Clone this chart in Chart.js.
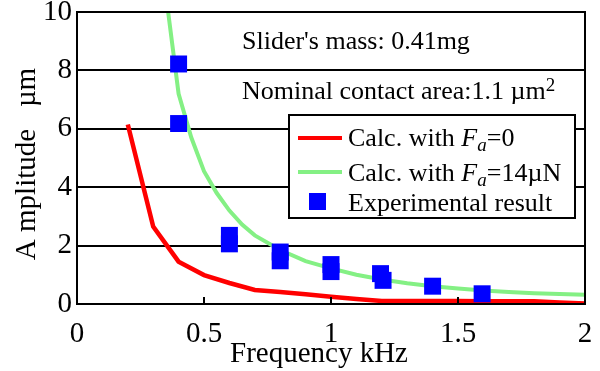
<!DOCTYPE html>
<html>
<head>
<meta charset="utf-8">
<script src="https://cdn.jsdelivr.net/npm/chart.js@4"></script>
<style>
  html, body { margin: 0; padding: 0; background: #fff; }
</style>
</head>
<body>
<canvas id="chart" width="600" height="371"></canvas>
<script>
// calculated amplitude, Fa = 0
const calcFreq0 = [0.2, 0.3, 0.4, 0.5, 0.6, 0.7, 0.8, 0.9, 1.0, 1.1, 1.2, 1.3, 1.4, 1.5, 1.6, 1.7, 1.8, 1.9, 2.0];
const calcAmp0 = [6.15, 2.65, 1.45, 0.99, 0.72, 0.48, 0.41, 0.33, 0.25, 0.17, 0.1, 0.1, 0.1, 0.1, 0.09, 0.09, 0.09, 0.05, 0.02];

// calculated amplitude, Fa = 14 uN
const calcFreq14 = [0.35, 0.4, 0.45, 0.5, 0.55, 0.6, 0.65, 0.7, 0.8, 0.9, 1.0, 1.1, 1.2, 1.3, 1.4, 1.5, 1.6, 1.7, 1.8, 1.9, 2.0];
const calcAmp14 = [10.6, 7.2, 5.7, 4.55, 3.8, 3.2, 2.72, 2.35, 1.85, 1.47, 1.22, 1.0, 0.84, 0.71, 0.61, 0.53, 0.46, 0.41, 0.37, 0.34, 0.32];

// experimental result
const expFreq = [0.4, 0.4, 0.6, 0.6, 0.8, 0.8, 1.0, 1.0, 1.195, 1.205, 1.4, 1.595];
const expAmp = [8.22, 6.18, 2.35, 2.06, 1.78, 1.48, 1.35, 1.11, 1.04, 0.81, 0.61, 0.35];

const xTicks = [0, 0.5, 1, 1.5, 2];
const yTicks = [0, 2, 4, 6, 8, 10];

const serif = "'Liberation Serif'";
const red = "#ff0000";
const green = "#84f084";
const blue = "#0000ff";

function toPoints(xs, ys) {
  return xs.map((x, i) => ({ x: x, y: ys[i] }));
}

// draws pieces of text one after another, returns end x
function drawRun(ctx, x, y, parts) {
  parts.forEach(p => {
    ctx.font = (p.italic ? "italic " : "") + p.size + "px " + serif;
    ctx.fillText(p.text, x, y + (p.dy || 0));
    x += ctx.measureText(p.text).width;
  });
  return x;
}

const overlay = {
  id: "overlay",
  afterDatasetsDraw(chart) {
    const ctx = chart.ctx;
    const a = chart.chartArea;
    const xs = chart.scales.x;
    ctx.save();
    ctx.fillStyle = "#000";
    ctx.strokeStyle = "#000";

    // inward tick marks on the bottom axis
    ctx.lineWidth = 2;
    xTicks.slice(1, -1).forEach(v => {
      const px = Math.round(xs.getPixelForValue(v));
      ctx.beginPath();
      ctx.moveTo(px, a.bottom);
      ctx.lineTo(px, a.bottom - 7);
      ctx.stroke();
    });

    // frame
    ctx.strokeRect(a.left, a.top, a.right - a.left, a.bottom - a.top);

    // notes
    ctx.textAlign = "left";
    ctx.textBaseline = "alphabetic";
    drawRun(ctx, a.left + 165, 49, [{ text: "Slider's mass: 0.41mg", size: 26 }]);
    drawRun(ctx, a.left + 165, 99, [
      { text: "Nominal contact area:1.1 \u00b5m", size: 26 },
      { text: "2", size: 19, dy: -8 }
    ]);

    // legend box
    const lx = 289, ly = 115, lw = 286, lh = 103;
    ctx.fillStyle = "#fff";
    ctx.fillRect(lx, ly, lw, lh);
    ctx.lineWidth = 2;
    ctx.strokeRect(lx, ly, lw, lh);

    ctx.lineWidth = 4;
    ctx.strokeStyle = red;
    ctx.beginPath(); ctx.moveTo(298, 138); ctx.lineTo(342, 138); ctx.stroke();
    ctx.strokeStyle = green;
    ctx.beginPath(); ctx.moveTo(298, 172); ctx.lineTo(342, 172); ctx.stroke();
    ctx.fillStyle = blue;
    ctx.fillRect(309, 193, 17, 17);

    ctx.fillStyle = "#000";
    drawRun(ctx, 348, 146, [
      { text: "Calc. with ", size: 26 },
      { text: "F", size: 26, italic: true },
      { text: "a", size: 19, italic: true, dy: 5 },
      { text: "=0", size: 26 }
    ]);
    drawRun(ctx, 348, 181, [
      { text: "Calc. with ", size: 26 },
      { text: "F", size: 26, italic: true },
      { text: "a", size: 19, italic: true, dy: 5 },
      { text: "=14\u00b5N", size: 26 }
    ]);
    drawRun(ctx, 348, 211, [{ text: "Experimental result", size: 26 }]);

    // axis titles
    ctx.font = "29px " + serif;
    ctx.textAlign = "center";
    ctx.fillText("Frequency kHz", 319, 362);
    ctx.translate(35, 164);
    ctx.rotate(-Math.PI / 2);
    ctx.fillText("A mplitude   \u00b5m", 0, 0);
    ctx.restore();
  }
};

const tickFont = { family: serif, size: 29 };

new Chart(document.getElementById("chart"), {
  type: "line",
  data: {
    datasets: [
      {
        label: "Calc. with Fa=0",
        data: toPoints(calcFreq0, calcAmp0),
        borderColor: red,
        borderWidth: 4.5,
        pointRadius: 0,
        order: 3
      },
      {
        label: "Calc. with Fa=14\u00b5N",
        data: toPoints(calcFreq14, calcAmp14),
        borderColor: green,
        borderWidth: 4,
        pointRadius: 0,
        order: 2
      },
      {
        type: "scatter",
        label: "Experimental result",
        data: toPoints(expFreq, expAmp),
        pointStyle: "rect",
        pointRadius: 12,
        borderWidth: 0,
        backgroundColor: blue,
        borderColor: blue,
        order: 1
      }
    ]
  },
  options: {
    responsive: false,
    animation: false,
    layout: { padding: { top: 10, right: 15, left: 0, bottom: 0 } },
    plugins: { legend: { display: false }, tooltip: { enabled: false } },
    scales: {
      x: {
        type: "linear",
        min: 0,
        max: 2,
        afterFit: s => { s.height = 67; s.paddingLeft = 0; s.paddingRight = 0; },
        afterBuildTicks: s => { s.ticks = xTicks.map(v => ({ value: v })); },
        grid: { display: false },
        border: { display: false },
        ticks: {
          font: tickFont, color: "#000", padding: 5, maxRotation: 0, autoSkip: false,
          callback: v => String(v)
        }
      },
      y: {
        min: 0,
        max: 10,
        afterFit: s => { s.width = 77; s.paddingTop = 0; s.paddingBottom = 0; },
        afterBuildTicks: s => { s.ticks = yTicks.map(v => ({ value: v })); },
        grid: { color: "#000", lineWidth: 2, drawTicks: false },
        border: { display: false },
        ticks: { font: tickFont, color: "#000", padding: 5, callback: v => String(v) }
      }
    }
  },
  plugins: [overlay]
});
</script>
</body>
</html>
